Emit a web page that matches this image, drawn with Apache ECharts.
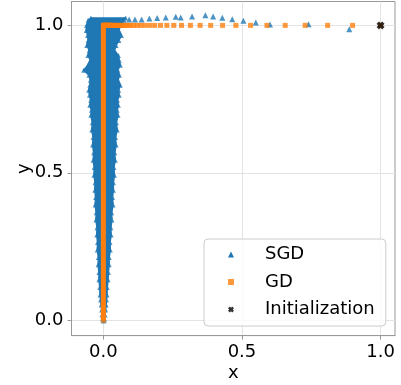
<!DOCTYPE html>
<html><head><meta charset="utf-8">
<script src="https://cdn.jsdelivr.net/npm/echarts@6/dist/echarts.min.js"></script>
<style>html,body{margin:0;padding:0;background:#fff}#c{width:401px;height:385px}</style>
</head><body><div id="c"></div>
<script>
// ---- data ----
const xTicks = [0, 0.5, 1.0];
const yTicks = [0, 0.5, 1.0];

// SGD dense cloud: envelope (left / right x) at each y level
const sgdBandY     = [1.025, 1.017, 1.000, 0.983, 0.966, 0.949, 0.932, 0.915, 0.898, 0.882, 0.865, 0.848, 0.831, 0.814, 0.797, 0.780, 0.763, 0.746, 0.729, 0.712, 0.695, 0.670, 0.645, 0.620, 0.594, 0.568, 0.543, 0.518, 0.492, 0.466, 0.441, 0.416, 0.391, 0.365, 0.340, 0.314, 0.289, 0.264, 0.238, 0.213, 0.188, 0.162, 0.137, 0.111, 0.086, 0.069, 0.052, 0.035, 0.018, 0.005, -0.002];
const sgdBandLeft  = [-0.045, -0.055, -0.061, -0.062, -0.057, -0.055, -0.060, -0.051, -0.056, -0.047, -0.056, -0.071, -0.052, -0.047, -0.049, -0.053, -0.050, -0.046, -0.049, -0.043, -0.045, -0.040, -0.042, -0.037, -0.039, -0.035, -0.037, -0.033, -0.034, -0.030, -0.031, -0.028, -0.030, -0.026, -0.027, -0.023, -0.024, -0.021, -0.022, -0.018, -0.019, -0.016, -0.016, -0.013, -0.012, -0.010, -0.008, -0.006, -0.005, -0.003, -0.001];
const sgdBandRight = [0.080, 0.075, 0.062, 0.056, 0.065, 0.056, 0.046, 0.040, 0.054, 0.057, 0.061, 0.052, 0.058, 0.053, 0.061, 0.055, 0.057, 0.051, 0.054, 0.050, 0.053, 0.047, 0.050, 0.044, 0.046, 0.041, 0.043, 0.038, 0.040, 0.036, 0.036, 0.033, 0.035, 0.030, 0.031, 0.027, 0.028, 0.024, 0.025, 0.021, 0.021, 0.018, 0.017, 0.014, 0.013, 0.011, 0.010, 0.008, 0.006, 0.004, 0.003];

// SGD sparse points along the top
const sgdSparseX = [0.093, 0.114, 0.138, 0.166, 0.194, 0.225, 0.261, 0.279, 0.320, 0.368, 0.396, 0.429, 0.465, 0.505, 0.550, 0.601, 0.740, 0.887];
const sgdSparseY = [1.020, 1.020, 1.020, 1.023, 1.025, 1.027, 1.029, 1.027, 1.030, 1.034, 1.030, 1.026, 1.021, 1.016, 1.010, 1.003, 1.004, 0.987];

// GD iterates
const gdX = [1.000, 0.899, 0.809, 0.728, 0.656, 0.590, 0.531, 0.478, 0.430, 0.387, 0.349, 0.314, 0.282, 0.254, 0.229, 0.206, 0.185, 0.167, 0.150, 0.135, 0.122, 0.109, 0.098, 0.089, 0.080, 0.072, 0.065, 0.058, 0.052, 0.047, 0.042, 0.038, 0.034, 0.031, 0.028, 0.025, 0.022, 0.020, 0.018, 0.016, 0.015, 0.013, 0.012, 0.010, 0.009, 0.008, 0.007, 0.006, 0.005, 0.004, 0.003, 0.002, 0.001, 0.000, 0.000];
const gdY = [1.000, 1.000, 1.000, 1.000, 1.000, 1.000, 1.000, 1.000, 1.000, 1.000, 1.000, 1.000, 1.000, 1.000, 1.000, 1.000, 1.000, 1.000, 1.000, 1.000, 1.000, 1.000, 1.000, 1.000, 1.000, 1.000, 1.000, 1.000, 1.000, 1.000, 1.000, 1.000, 1.000, 1.000, 1.000, 1.000, 1.000, 1.000, 1.000, 1.000, 1.000, 1.000, 1.000, 1.000, 1.000, 1.000, 1.000, 1.000, 1.000, 1.000, 1.000, 1.000, 1.000, 1.000, 0.000];
// GD descent along x = 0 (dense iterates forming a solid column)
const gdPathX = [0.0, 0.0];
const gdPathY = [1.0, 0.0];

const initX = [1.0];
const initY = [1.0];

// ---- chart ----
const FONT = 'DejaVu Sans';
const BLUE = '#1f77b4', ORANGE = '#ff7f0e';
const XMARK = 'path://M0,3 L3,0 L5,2 L7,0 L10,3 L8,5 L10,7 L7,10 L5,8 L3,10 L0,7 L2,5 Z';
const zip = (a, b) => a.map((v, i) => [v, b[i]]);

const chart = echarts.init(document.getElementById('c'), null, {renderer: 'canvas'});
const axisCommon = {
  type: 'value',
  splitNumber: 2,
  nameLocation: 'middle',
  nameMoveOverlap: false,
  nameTextStyle: {fontFamily: FONT, fontSize: 18, color: '#000'},
  axisLine: {show: true, onZero: false, lineStyle: {color: '#999', width: 1}},
  axisTick: {show: true, inside: false, length: 4, lineStyle: {color: '#999'}},
  splitLine: {show: true, lineStyle: {color: '#e3e3e3', width: 1}},
  axisLabel: {fontFamily: FONT, fontSize: 18, color: '#000'},
};
chart.setOption({
  animation: false,
  backgroundColor: '#fff',
  grid: {left: 71.5, top: 1.5, right: 6, bottom: 49.4, show: true, borderColor: '#999', borderWidth: 1,
         containLabel: false, outerBoundsMode: 'none'},
  xAxis: Object.assign({}, axisCommon, {
    min: -0.115, max: 1.052, name: 'x', nameGap: 29,
    axisTick: Object.assign({}, axisCommon.axisTick, {customValues: xTicks}),
    axisLabel: Object.assign({}, axisCommon.axisLabel, {margin: 8, customValues: xTicks, formatter: v => v.toFixed(1)}),
  }),
  yAxis: Object.assign({}, axisCommon, {
    min: -0.052, max: 1.081, name: 'y', nameGap: 38,
    axisTick: Object.assign({}, axisCommon.axisTick, {customValues: yTicks}),
    axisLabel: Object.assign({}, axisCommon.axisLabel, {margin: 8, customValues: yTicks, formatter: v => v.toFixed(1)}),
  }),
  legend: {
    left: 204, top: 239, orient: 'vertical',
    data: [{name: 'SGD', icon: 'triangle'}, {name: 'GD', icon: 'rect'}, {name: 'Initialization', icon: XMARK}],
    itemWidth: 6, itemHeight: 6, itemGap: 8.5,
    padding: [6, 11, 7, 24],
    backgroundColor: 'rgba(255,255,255,0.8)',
    borderColor: '#cccccc', borderWidth: 1, borderRadius: 4,
    textStyle: {fontFamily: FONT, fontSize: 18, color: '#000', lineHeight: 19, padding: [0, 0, 0, 26]},
  },
  series: [
    {
      name: 'SGD', type: 'custom', z: 2, clip: true,
      itemStyle: {color: BLUE},
      data: zip(sgdBandLeft, sgdBandY),
      renderItem: function (params, api) {
        if (params.dataIndex !== 0) return null;
        const pts = [];
        for (let i = 0; i < sgdBandY.length; i++) pts.push(api.coord([sgdBandRight[i], sgdBandY[i]]));
        for (let i = sgdBandY.length - 1; i >= 0; i--) pts.push(api.coord([sgdBandLeft[i], sgdBandY[i]]));
        return {type: 'polygon', shape: {points: pts}, style: {fill: BLUE, stroke: BLUE, lineWidth: 1.5, lineJoin: 'round'}};
      },
    },
    {
      name: 'SGD', type: 'scatter', z: 3, symbol: 'triangle', symbolSize: 5,
      itemStyle: {color: BLUE}, data: zip(sgdBandLeft, sgdBandY).concat(zip(sgdBandRight, sgdBandY)),
    },
    {
      name: 'SGD', type: 'scatter', z: 3, symbol: 'triangle', symbolSize: 6,
      itemStyle: {color: BLUE}, data: zip(sgdSparseX, sgdSparseY),
    },
    {
      name: 'GDpath', type: 'line', z: 4, symbol: 'none',
      lineStyle: {color: ORANGE, width: 5, cap: 'butt'},
      data: zip(gdPathX, gdPathY),
    },
    {
      name: 'GD', type: 'scatter', z: 5, symbol: 'rect', symbolSize: 5,
      itemStyle: {color: ORANGE}, data: zip(gdX, gdY),
    },
    {
      name: 'Initialization', type: 'scatter', z: 6, symbol: XMARK, symbolSize: 8,
      itemStyle: {color: '#000'}, data: zip(initX, initY),
    },
  ],
});
</script>
</body></html>
